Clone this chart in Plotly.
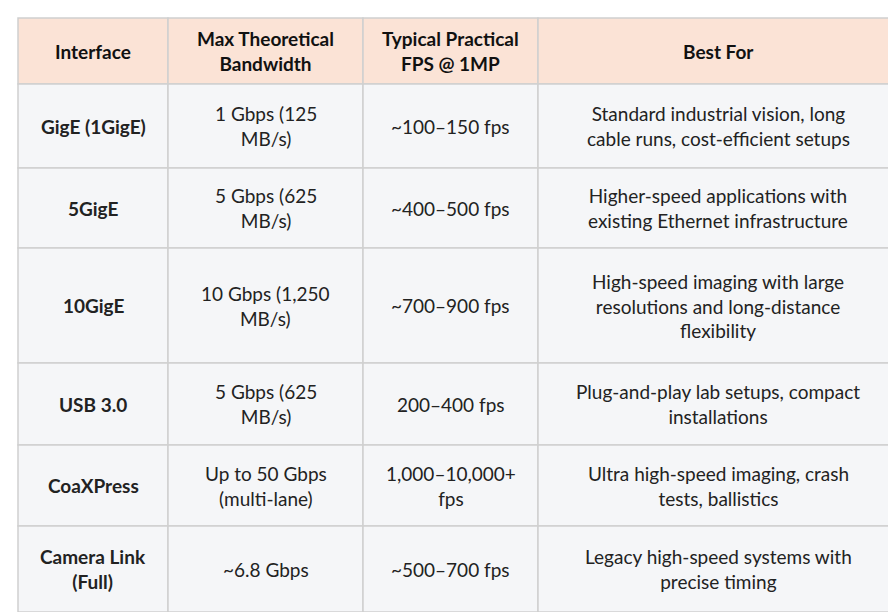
import plotly.graph_objects as go

headers = ["<b>Interface</b>", "<b>Max Theoretical<br>Bandwidth</b>", "<b>Typical Practical<br>FPS @ 1MP</b>", "<b>Best For</b>"]
interfaces = ["<b>GigE (1GigE)</b>", "<b>5GigE</b>", "<b>10GigE</b>", "<b>USB 3.0</b>", "<b>CoaXPress</b>", "<b>Camera Link<br>(Full)</b>"]
bandwidth = ["1 Gbps (125<br>MB/s)", "5 Gbps (625<br>MB/s)", "10 Gbps (1,250<br>MB/s)", "5 Gbps (625<br>MB/s)", "Up to 50 Gbps<br>(multi-lane)", "~6.8 Gbps"]
fps = ["~100–150 fps", "~400–500 fps", "~700–900 fps", "200–400 fps", "1,000–10,000+<br>fps", "~500–700 fps"]
best_for = ["Standard industrial vision, long<br>cable runs, cost-efficient setups",
            "Higher-speed applications with<br>existing Ethernet infrastructure",
            "High-speed imaging with large<br>resolutions and long-distance<br>flexibility",
            "Plug-and-play lab setups, compact<br>installations",
            "Ultra high-speed imaging, crash<br>tests, ballistics",
            "Legacy high-speed systems with<br>precise timing"]

# layout (pixels)
col_edges = [10, 160, 355, 530, 890]
row_edges = [10, 76, 160, 240, 355, 437, 518, 604]
FONT = "Lato"

columns = [interfaces, bandwidth, fps, best_for]
rows = [headers] + [[c[i] for c in columns] for i in range(len(interfaces))]

fig = go.Figure()
shapes, annots = [], []
for r, row in enumerate(rows):
    y0, y1 = row_edges[r], row_edges[r + 1]
    for c, txt in enumerate(row):
        x0, x1 = col_edges[c], col_edges[c + 1]
        shapes.append(dict(type="rect", xref="x", yref="y", x0=x0, x1=x1, y0=y0, y1=y1,
                           fillcolor="#FBE3D6" if r == 0 else "#F5F6F8",
                           line=dict(color="#CFCFCF", width=1.5), layer="below"))
        annots.append(dict(x=(x0 + x1) / 2, y=(y0 + y1) / 2, xref="x", yref="y", text=txt,
                           showarrow=False, align="center", xanchor="center", yanchor="middle",
                           font=dict(family=FONT, size=19, color="#111111" if r == 0 else "#222222")))

fig.update_layout(width=896, height=612, margin=dict(l=0, r=0, t=0, b=0),
                  paper_bgcolor="white", plot_bgcolor="white", shapes=shapes, annotations=annots,
                  xaxis=dict(range=[0, 896], visible=False, fixedrange=True),
                  yaxis=dict(range=[612, 0], visible=False, fixedrange=True), showlegend=False)
fig.write_html("out.html")
